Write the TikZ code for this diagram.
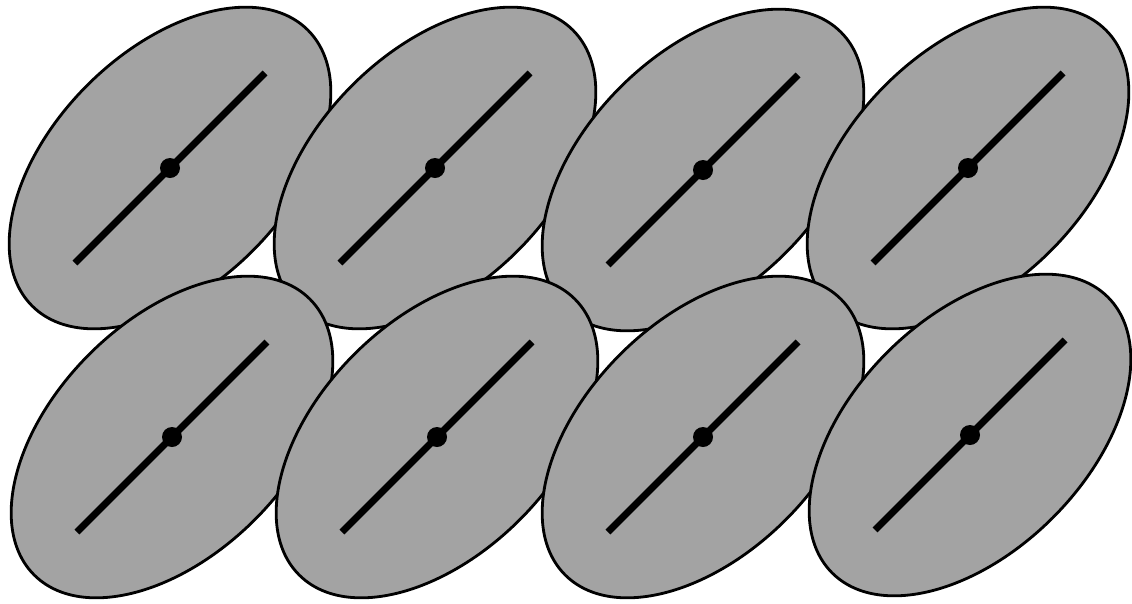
\documentclass[tikz,border=0pt]{standalone}
\usetikzlibrary{positioning}

\begin{document}
\begin{tikzpicture}[
    cell/.style={fill=black!36, draw=black, line width=1.6pt},
    axisbar/.style={draw=black, line width=4pt},
    hub/.style={fill=black}
]
\useasboundingbox (0,0) rectangle (22.64,-12.06);
% cell centres, top row then bottom row
\coordinate (c1) at (3.40,-3.36);
\coordinate (c2) at (8.70,-3.36);
\coordinate (c3) at (14.06,-3.40);
\coordinate (c4) at (19.36,-3.36);
\coordinate (c5) at (3.44,-8.74);
\coordinate (c6) at (8.74,-8.74);
\coordinate (c7) at (14.06,-8.74);
\coordinate (c8) at (19.40,-8.70);
% each cell covers the ones before it
\foreach \c in {c1,c2,c3,c4,c5,c6,c7,c8} {
  \path[cell] (\c) ellipse [x radius=3.9, y radius=2.34, rotate=45];
  \draw[axisbar] (\c) ++(-1.9,-1.9) -- ++(3.8,3.8);
  \fill[hub] (\c) circle [radius=0.2];
}
\end{tikzpicture}
\end{document}
